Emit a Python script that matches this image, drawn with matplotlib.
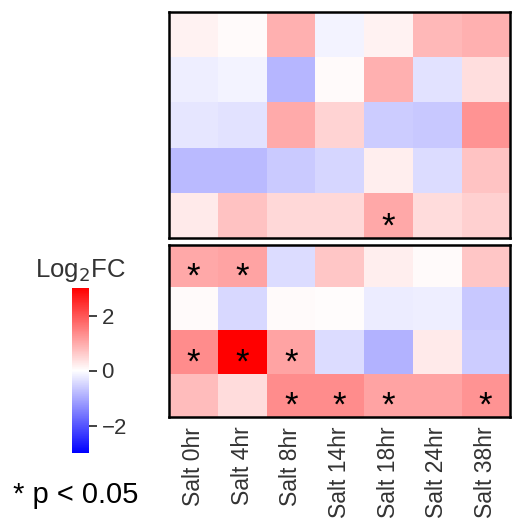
import matplotlib as mpl
mpl.use("Agg")
import matplotlib.pyplot as plt
import numpy as np

plt.rcParams["font.family"] = ["Liberation Sans", "DejaVu Sans"]

conditions = ["Salt 0hr", "Salt 4hr", "Salt 8hr", "Salt 14hr", "Salt 18hr", "Salt 24hr", "Salt 38hr"]

# log2 fold change, upper gene group
fc_top = [
    [0.15, 0.05, 0.93, -0.13, 0.15, 0.84, 0.93],
    [-0.20, -0.14, -0.85, 0.05, 0.93, -0.35, 0.38],
    [-0.30, -0.35, 1.00, 0.50, -0.60, -0.65, 1.26],
    [-0.82, -0.80, -0.62, -0.48, 0.20, -0.42, 0.70],
    [0.25, 0.72, 0.46, 0.46, 1.02, 0.41, 0.55],
]
sig_top = [
    [0, 0, 0, 0, 0, 0, 0],
    [0, 0, 0, 0, 0, 0, 0],
    [0, 0, 0, 0, 0, 0, 0],
    [0, 0, 0, 0, 0, 0, 0],
    [0, 0, 0, 0, 1, 0, 0],
]

# log2 fold change, lower gene group
fc_bottom = [
    [1.02, 1.07, -0.42, 0.66, 0.20, 0.05, 0.66],
    [0.05, -0.46, 0.07, 0.03, -0.22, -0.20, -0.65],
    [1.35, 3.00, 1.07, -0.42, -0.90, 0.25, -0.60],
    [0.79, 0.41, 1.35, 1.35, 1.07, 1.07, 1.26],
]
sig_bottom = [
    [1, 1, 0, 0, 0, 0, 0],
    [0, 0, 0, 0, 0, 0, 0],
    [1, 1, 1, 0, 0, 0, 0],
    [0, 0, 1, 1, 1, 0, 1],
]

W, H = 513, 525
fig = plt.figure(figsize=(W / 100, H / 100), dpi=100)
norm = mpl.colors.Normalize(vmin=-3, vmax=3)
cmap = plt.get_cmap("bwr")


def heat(rect, fc, sig, show_x):
    ax = fig.add_axes(rect)
    data = np.array(fc)
    ax.imshow(data, cmap=cmap, norm=norm, aspect="auto", interpolation="nearest")
    for i, row in enumerate(sig):
        for j, s in enumerate(row):
            if s:
                ax.text(j, i + 0.25, "*", ha="center", va="center", fontsize=25, color="black")
    ax.set_yticks([])
    ax.set_xticks(range(len(conditions)))
    ax.tick_params(axis="x", length=0, pad=7)
    if show_x:
        ax.set_xticklabels(conditions, rotation=90, fontsize=16.5, color="#333333")
    else:
        ax.set_xticklabels([])
    for sp in ax.spines.values():
        sp.set_linewidth(1.8)
    return ax


heat([169 / W, 1 - 238 / H, 341 / W, 226 / H], fc_top, sig_top, False)
heat([169 / W, 1 - 417 / H, 341 / W, 172 / H], fc_bottom, sig_bottom, True)

# colour scale
cax = fig.add_axes([72 / W, 1 - 453 / H, 17 / W, 165 / H])
cb = fig.colorbar(mpl.cm.ScalarMappable(norm=norm, cmap=cmap), cax=cax, ticks=[-2, 0, 2])
cb.outline.set_visible(False)
cb.ax.tick_params(labelsize=16, length=6, width=1.3, colors="#333333", pad=3)
fig.text(80 / W, 1 - 271 / H, r"Log$_2$FC", ha="center", va="center", fontsize=18.5, color="#333333")

fig.text(13 / W, 1 - 495 / H, "* p < 0.05", ha="left", va="center", fontsize=21, color="black")

fig.savefig("out.png", dpi=100)
